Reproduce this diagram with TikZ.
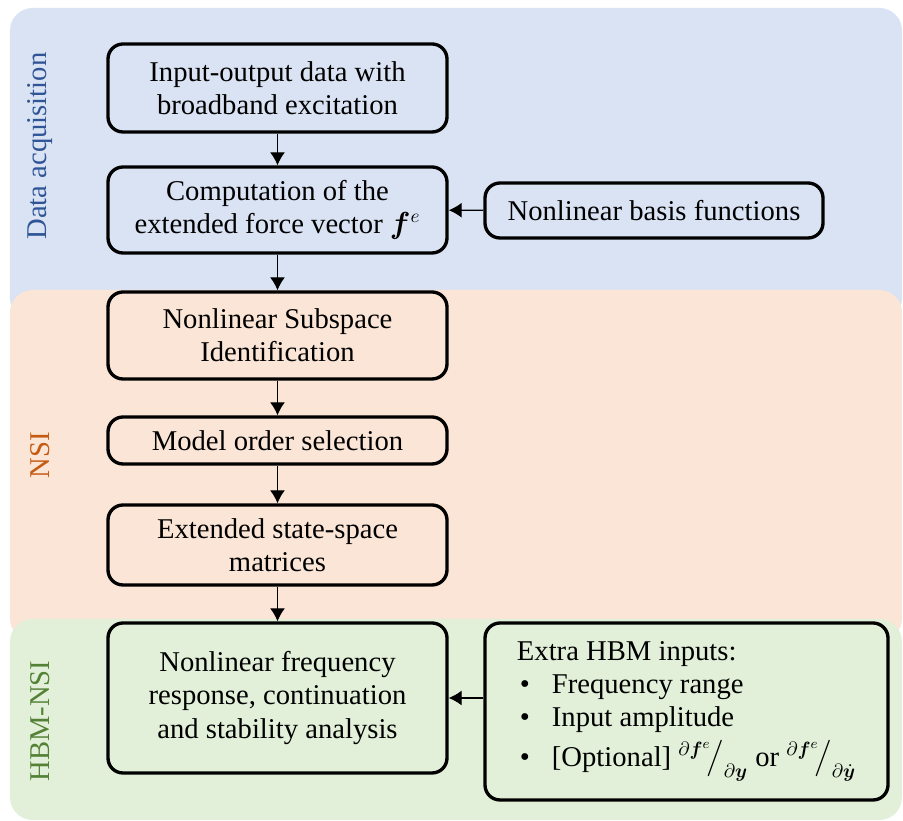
\documentclass[tikz,border=0pt]{standalone}
\usepackage{fontspec}
\setmainfont{Liberation Serif}
\usepackage{amsmath}
\usepackage{bm}
\usepackage{tikz}
\usetikzlibrary{arrows.meta}
\definecolor{acqblue}{HTML}{DAE3F3}
\definecolor{nsiorange}{HTML}{FBE5D6}
\definecolor{hbmgreen}{HTML}{E2F0D9}
\definecolor{acqtext}{HTML}{2F5597}
\definecolor{nsitext}{HTML}{C55A11}
\definecolor{hbmtext}{HTML}{548235}

\begin{document}
\begin{tikzpicture}[
            panel/.style = {rounded corners=0.45cm},
            box/.style = {draw, line width=1.9pt, rounded corners=0.3cm, align=center, minimum width=6.78cm, inner sep=2pt, font=\fontsize{16.3}{18.8}\selectfont},
            link/.style = {line width=0.75pt, -{Latex[length=0.26cm, width=0.3cm]}},
            side/.style = {rotate=90, font=\fontsize{16.3}{18.8}\selectfont},
            ]
            \useasboundingbox (0, 0) rectangle (18.06, 16.42);

            % panels
            \fill[acqblue, panel]   (0.2, 10.0) rectangle (18.04, 16.26);
            \fill[nsiorange, panel] (0.2, 3.6)  rectangle (18.04, 10.62);
            \fill[hbmgreen, panel]  (0.2, 0.02) rectangle (18.04, 4.04);

            \node[side, text=acqtext] (LA) at (0.8, 13.5) {Data acquisition};
            \node[side, text=nsitext] (LN) at (0.8, 7.32) {NSI};
            \node[side, text=hbmtext] (LH) at (0.8, 2.0) {HBM-NSI};

            \node[box, fill=acqblue, minimum height=1.76cm]  (IO)  at (5.55, 14.66) {Input-output data with\\broadband excitation};
            \node[box, fill=acqblue, minimum height=1.72cm]  (FV)  at (5.55, 12.22) {Computation of the\\extended force vector $\bm{f}^{e}$};
            \node[box, fill=acqblue, minimum height=1.1cm, minimum width=6.76cm] (BF) at (13.08, 12.21) {Nonlinear basis functions};
            \node[box, fill=nsiorange, minimum height=1.74cm] (SI)  at (5.55, 9.71) {Nonlinear Subspace\\Identification};
            \node[box, fill=nsiorange, minimum height=0.94cm] (MO)  at (5.55, 7.61) {Model order selection};
            \node[box, fill=nsiorange, minimum height=1.6cm]  (SS)  at (5.55, 5.52) {Extended state-space\\matrices};
            \node[box, fill=hbmgreen, minimum height=3.0cm]   (FR)  at (5.55, 2.46) {Nonlinear frequency\\response, continuation\\and stability analysis};
            \node[box, fill=hbmgreen, minimum height=3.54cm, minimum width=8.06cm, align=left] (HB) at (13.73, 2.19) {Extra HBM inputs:\\
                \hspace*{0.06cm}\makebox[0.64cm][l]{\textbullet}Frequency range\\
                \hspace*{0.06cm}\makebox[0.64cm][l]{\textbullet}Input amplitude\\[4pt]
                \hspace*{0.06cm}\makebox[0.64cm][l]{\textbullet}[Optional] ${}^{\partial\bm{f}^{e}}\!\big/_{\partial\bm{y}}$ or ${}^{\partial\bm{f}^{e}}\!\big/_{\partial\dot{\bm{y}}}$};

            \draw[link] (IO) -- (FV);
            \draw[link] (FV) -- (SI);
            \draw[link] (SI) -- (MO);
            \draw[link] (MO) -- (SS);
            \draw[link] (SS) -- (FR);
            \draw[link] (BF) -- (FV);
            \draw[link] (HB.west |- FR.east) -- (FR.east);

        \end{tikzpicture}
\end{document}
